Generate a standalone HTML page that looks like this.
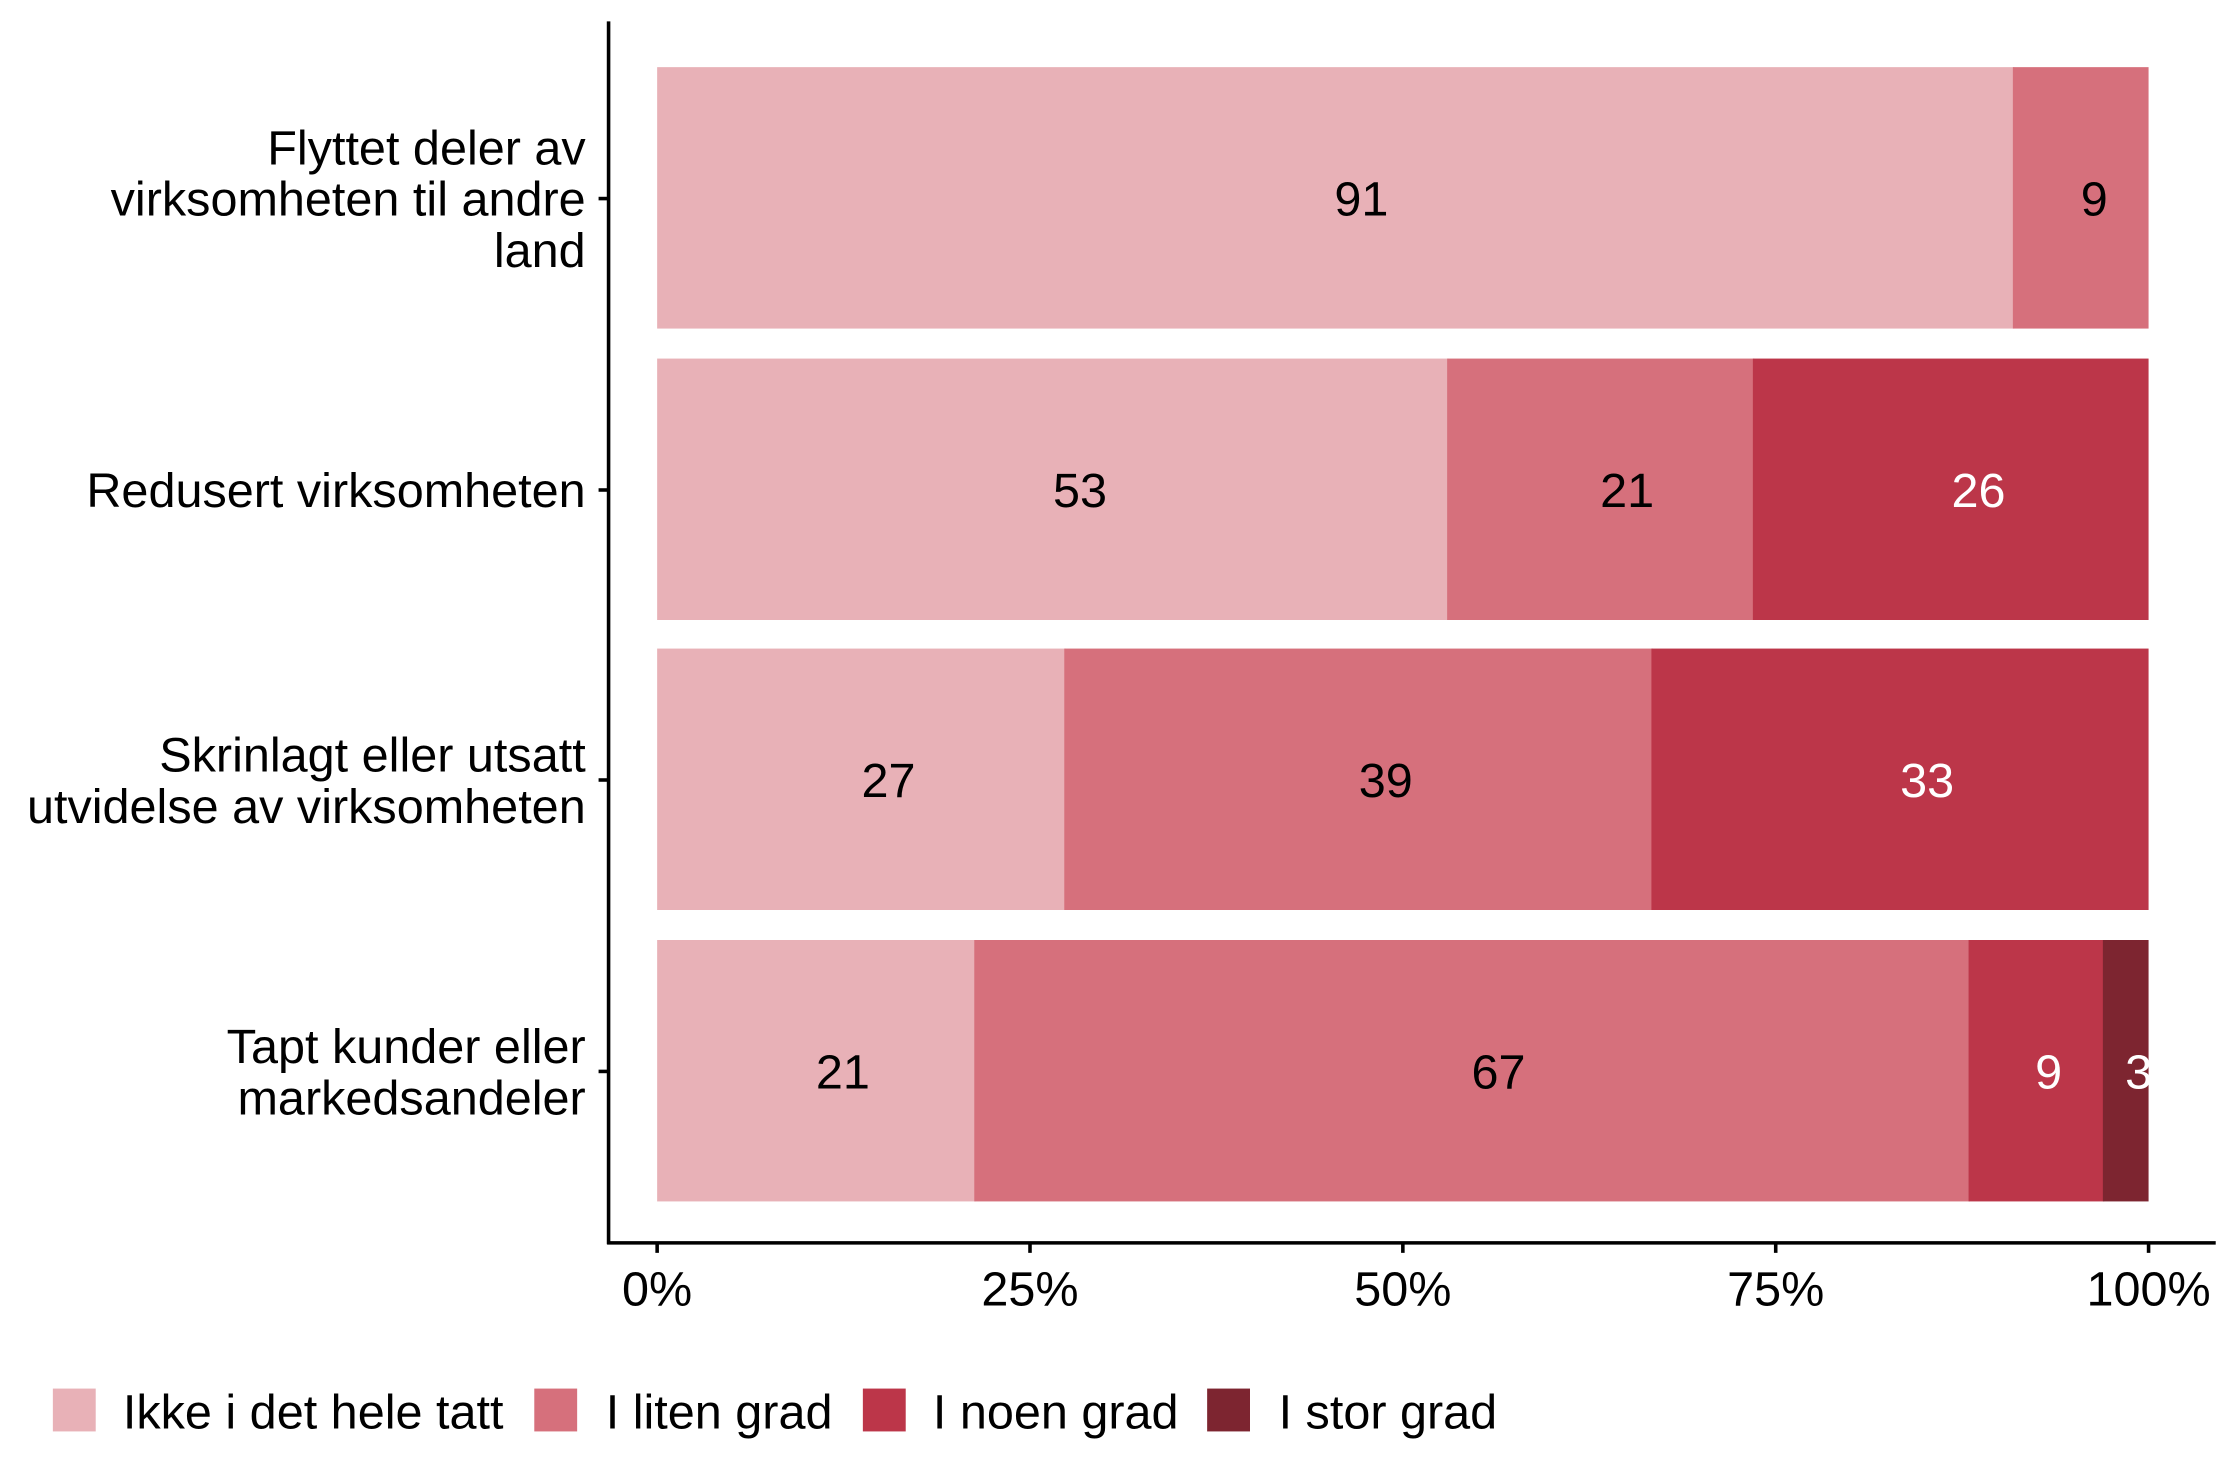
<!DOCTYPE html>
<html><head><meta charset="utf-8"><style>html,body{margin:0;padding:0;background:#fff}svg{display:block}</style></head>
<body>
<svg width="2240" height="1484" viewBox="0 0 1568 1038.8" xmlns="http://www.w3.org/2000/svg" font-family="Liberation Sans, Arial, sans-serif" font-size="34">
<rect width="1568" height="1039" fill="#fff"/>
<g>
<rect x="460" y="47" width="950" height="183" fill="#E8B1B7"/>
<rect x="1409" y="47" width="95" height="183" fill="#D6707C"/>
<rect x="460" y="251" width="554" height="183" fill="#E8B1B7"/>
<rect x="1013" y="251" width="215" height="183" fill="#D6707C"/>
<rect x="1227" y="251" width="277" height="183" fill="#BC3649"/>
<rect x="460" y="454" width="286" height="183" fill="#E8B1B7"/>
<rect x="745" y="454" width="412" height="183" fill="#D6707C"/>
<rect x="1156" y="454" width="348" height="183" fill="#BC3649"/>
<rect x="460" y="658" width="223" height="183" fill="#E8B1B7"/>
<rect x="682" y="658" width="697" height="183" fill="#D6707C"/>
<rect x="1378" y="658" width="95" height="183" fill="#BC3649"/>
<rect x="1472" y="658" width="32" height="183" fill="#7D2530"/>
</g>
<g text-anchor="middle">
<text x="953" y="151">91</text><text x="1466" y="151">9</text>
<text x="756" y="355">53</text><text x="1139" y="355">21</text><text x="1385" y="355" fill="#fff">26</text>
<text x="622" y="558">27</text><text x="970" y="558">39</text><text x="1349" y="558" fill="#fff">33</text>
<text x="590" y="762">21</text><text x="1049" y="762">67</text><text x="1434" y="762" fill="#fff">9</text><text x="1497" y="762" fill="#fff">3</text>
</g>
<g stroke="#000" stroke-width="2.5">
<line x1="426" y1="15" x2="426" y2="871"/>
<line x1="425" y1="870" x2="1551" y2="870"/>
<line x1="419" y1="139" x2="426" y2="139"/>
<line x1="419" y1="343" x2="426" y2="343"/>
<line x1="419" y1="546" x2="426" y2="546"/>
<line x1="419" y1="750" x2="426" y2="750"/>
<line x1="460" y1="870" x2="460" y2="877"/>
<line x1="721" y1="870" x2="721" y2="877"/>
<line x1="982" y1="870" x2="982" y2="877"/>
<line x1="1243" y1="870" x2="1243" y2="877"/>
<line x1="1504" y1="870" x2="1504" y2="877"/>
</g>
<g text-anchor="end">
<text x="410" y="115">Flyttet deler av</text>
<text x="410" y="151">virksomheten til andre</text>
<text x="410" y="187">land</text>
<text x="410" y="355">Redusert virksomheten</text>
<text x="410" y="540">Skrinlagt eller utsatt</text>
<text x="410" y="576">utvidelse av virksomheten</text>
<text x="410" y="744">Tapt kunder eller</text>
<text x="410" y="780">markedsandeler</text>
</g>
<g text-anchor="middle">
<text x="460" y="914">0%</text><text x="721" y="914">25%</text><text x="982" y="914">50%</text><text x="1243" y="914">75%</text><text x="1504" y="914">100%</text>
</g>
<rect x="37" y="972" width="30" height="30" fill="#E8B1B7"/>
<text x="86" y="1000">Ikke i det hele tatt</text>
<rect x="374" y="972" width="30" height="30" fill="#D6707C"/>
<text x="424" y="1000">I liten grad</text>
<rect x="604" y="972" width="30" height="30" fill="#BC3649"/>
<text x="653" y="1000">I noen grad</text>
<rect x="845" y="972" width="30" height="30" fill="#7D2530"/>
<text x="895" y="1000">I stor grad</text>
</svg>
</body></html>
